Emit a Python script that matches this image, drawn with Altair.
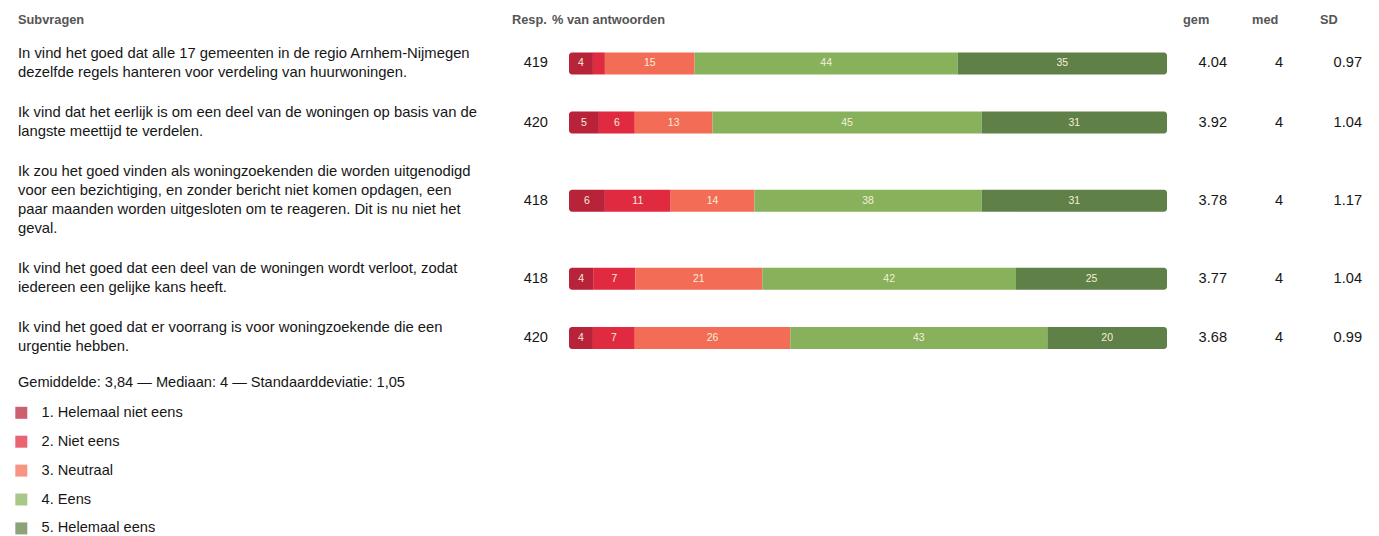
import altair as alt
import pandas as pd

# ---------------- data ----------------
questions = [
    ["In vind het goed dat alle 17 gemeenten in de regio Arnhem-Nijmegen",
     "dezelfde regels hanteren voor verdeling van huurwoningen."],
    ["Ik vind dat het eerlijk is om een deel van de woningen op basis van de",
     "langste meettijd te verdelen."],
    ["Ik zou het goed vinden als woningzoekenden die worden uitgenodigd",
     "voor een bezichtiging, en zonder bericht niet komen opdagen, een",
     "paar maanden worden uitgesloten om te reageren. Dit is nu niet het",
     "geval."],
    ["Ik vind het goed dat een deel van de woningen wordt verloot, zodat",
     "iedereen een gelijke kans heeft."],
    ["Ik vind het goed dat er voorrang is voor woningzoekende die een",
     "urgentie hebben."],
]
resp = [419, 420, 418, 418, 420]
gem = ["4.04", "3.92", "3.78", "3.77", "3.68"]
med = ["4", "4", "4", "4", "4"]
sd = ["0.97", "1.04", "1.17", "1.04", "0.99"]

categories = ["1. Helemaal niet eens", "2. Niet eens", "3. Neutraal", "4. Eens", "5. Helemaal eens"]
cat1 = [4, 5, 6, 4, 4]
cat2 = [2, 6, 11, 7, 7]
cat3 = [15, 13, 14, 21, 26]
cat4 = [44, 45, 38, 42, 43]
cat5 = [35, 31, 31, 25, 20]
colors = ["#b8233a", "#e02a3f", "#f36c55", "#87b15b", "#5f8047"]

headers = ["Subvragen", "Resp.", "% van antwoorden", "gem", "med", "SD"]
summary = ["Gemiddelde: 3,84 \u2014 Mediaan: 4 \u2014 Standaarddeviatie: 1,05"]

# ---------------- tables ----------------
ROW_GAP = 2.13  # gap between rows, in text-line units
row_first, u = [], 0.0
for q in questions:
    row_first.append(u)
    u += len(q) - 1 + ROW_GAP
row_center = [f + (len(q) - 1) / 2 for f, q in zip(row_first, questions)]

lines_df = pd.DataFrame([
    {"u": row_first[i] + j, "t": line}
    for i, q in enumerate(questions) for j, line in enumerate(q)
])
rows_df = pd.DataFrame({"row": list(range(len(questions))), "u": row_center,
                        "resp": resp, "gem": gem, "med": med, "sd": sd})
pcts = [cat1, cat2, cat3, cat4, cat5]
bars_df = pd.DataFrame([
    {"row": i, "u": row_center[i], "k": k, "cat": categories[k], "v": pcts[k][i]}
    for i in range(len(questions)) for k in range(len(categories))
])
head_df = pd.DataFrame({"t": headers})
summary_df = pd.DataFrame({"t": summary})

FONT = "Liberation Sans"
TXT = 14.6
QTXT = 14.8
yscale = alt.Scale(domain=[0, 20], range=[41, 429], nice=False, zero=False)
xscale = alt.Scale(domain=[0, 1], range=[561, 1159], nice=False, zero=False)
Y = alt.Y("u:Q", scale=yscale, axis=None)

color = alt.Color(
    "cat:N",
    scale=alt.Scale(domain=categories, range=colors),
    legend=alt.Legend(
        title=None, orient="none", legendX=6, legendY=397.5,
        labelFont=FONT, labelFontSize=TXT, labelColor="#161616", labelOffset=13, labelLimit=400,
        symbolType="square", symbolSize=144, symbolOpacity=0.72, symbolStrokeWidth=0,
        rowPadding=13.9, padding=0,
    ),
)

base_bars = (
    alt.Chart(bars_df)
    .transform_stack(stack="v", groupby=["row"], as_=["x0", "x1"],
                     sort=[alt.SortField("k", order="ascending")], offset="normalize")
)

def bar_layer(flt, **kw):
    return base_bars.transform_filter(flt).mark_bar(height=22, **kw).encode(
        x=alt.X("x0:Q", scale=xscale, axis=None),
        x2="x1:Q",
        y=Y,
        color=color,
    )

bars = (bar_layer("datum.k == 0", cornerRadiusTopLeft=3, cornerRadiusBottomLeft=3)
        + bar_layer("datum.k > 0 && datum.k < 4")
        + bar_layer("datum.k == 4", cornerRadiusTopRight=3, cornerRadiusBottomRight=3))

bar_labels = (
    base_bars.transform_filter("datum.v >= 3")
    .transform_calculate(mid="(datum.x0 + datum.x1) / 2")
    .mark_text(font=FONT, fontSize=10.5, color="#f4efd8", baseline="middle", align="center")
    .encode(x=alt.X("mid:Q", scale=xscale, axis=None), y=Y, text="v:Q")
)

q_text = alt.Chart(lines_df).mark_text(
    font=FONT, fontSize=QTXT, color="#161616", align="left", baseline="middle"
).encode(x=alt.value(10), y=Y, text="t:N")

def num_col(field, xpx):
    return alt.Chart(rows_df).mark_text(
        font=FONT, fontSize=TXT, color="#161616", align="right", baseline="middle"
    ).encode(x=alt.value(xpx), y=Y, text=f"{field}:N")

summary_text = alt.Chart(summary_df).mark_text(
    font=FONT, fontSize=TXT, color="#161616", align="left", baseline="middle"
).encode(x=alt.value(10), y=alt.value(375), text="t:N")

head_x = [10, 504, 544, 1175, 1244, 1312]
head_layers = [
    alt.Chart(head_df).transform_filter(alt.datum.t == h).mark_text(
        font=FONT, fontSize=12.8, fontWeight="bold", color="#555", align="left", baseline="middle"
    ).encode(x=alt.value(xp), y=alt.value(12), text="t:N")
    for h, xp in zip(headers, head_x)
]

chart = alt.layer(
    bars, bar_labels, q_text, summary_text,
    num_col("resp", 540), num_col("gem", 1219), num_col("med", 1275), num_col("sd", 1354),
    *head_layers,
).properties(
    width=1363, height=528, autosize=alt.AutoSizeParams(type="none"), padding=0,
    background="white"
).configure(font=FONT).configure_view(stroke=None, strokeWidth=0)

chart.save("out.html", embed_options={"renderer": "svg", "actions": False})
